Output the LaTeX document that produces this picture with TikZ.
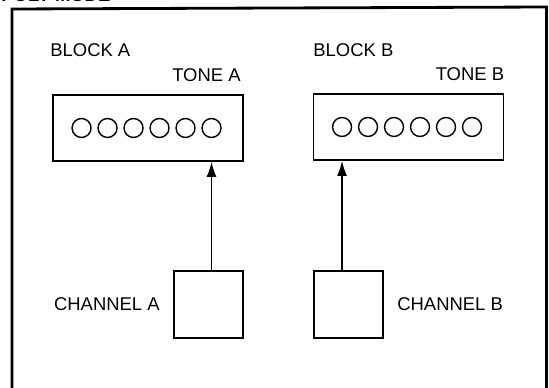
\documentclass[tikz,border=0pt]{standalone}
\usepackage{fontspec}
\setmainfont{Liberation Sans}
\usetikzlibrary{positioning, arrows.meta}

\tikzset{
  panel/.style={draw, line width=1.1pt, minimum width=3.8cm, minimum height=1.32cm},
  chanbox/.style={draw, line width=1.1pt, minimum width=1.38cm, minimum height=1.34cm},
  key/.style={circle, draw, line width=0.8pt, minimum size=0.38cm, inner sep=0pt},
  lbl/.style={inner sep=0pt, font=\fontsize{10.5}{12}\selectfont},
  feed/.style={line width=0.7pt, -{Latex[length=0.3cm, width=0.2cm]}}
}

\begin{document}
\begin{tikzpicture}[x=0.02cm, y=-0.02cm]
\useasboundingbox (0,0) rectangle (549,388);
\draw [line width=1.6pt] (12,400) -- (12,9) -- (546.5,7) -- (546.5,400);
\node [lbl, font=\fontsize{10.5}{12}\selectfont\bfseries, anchor=base west] (title) at (1,2) {POLY MODE};

\node [panel] (toneA) at (148,128) {};
\node [panel] (toneB) at (408.5,127) {};
\foreach \i [evaluate=\i as \kx using 0.59+(\i-1)*0.52] in {1,...,6} {
  \node [key] (a\i) at ([xshift=\kx cm]toneA.west) {};
  \node [key] (b\i) at ([xshift=\kx cm]toneB.west) {};
}

\node [chanbox] (chA) at (208.5,304.5) {};
\node [chanbox] (chB) at (348.5,304.5) {};
\draw [feed] (chA.north -| a6) -- (toneA.south -| a6);
\draw [feed] (chB.north -| b1) -- (toneB.south -| b1);

\node [lbl, anchor=south west] (blockA) at (50,57) {BLOCK A};
\node [lbl, anchor=south west] (blockB) at (313,57) {BLOCK B};
\node [lbl, above left=0.24cm and 0.06cm of toneA.north east] (labA) {TONE A};
\node [lbl, above left=0.24cm and 0cm of toneB.north east] (labB) {TONE B};
\node [lbl, left=0.26cm of chA] (chanA) {CHANNEL A};
\node [lbl, right=0.26cm of chB] (chanB) {CHANNEL B};
\end{tikzpicture}
\end{document}
